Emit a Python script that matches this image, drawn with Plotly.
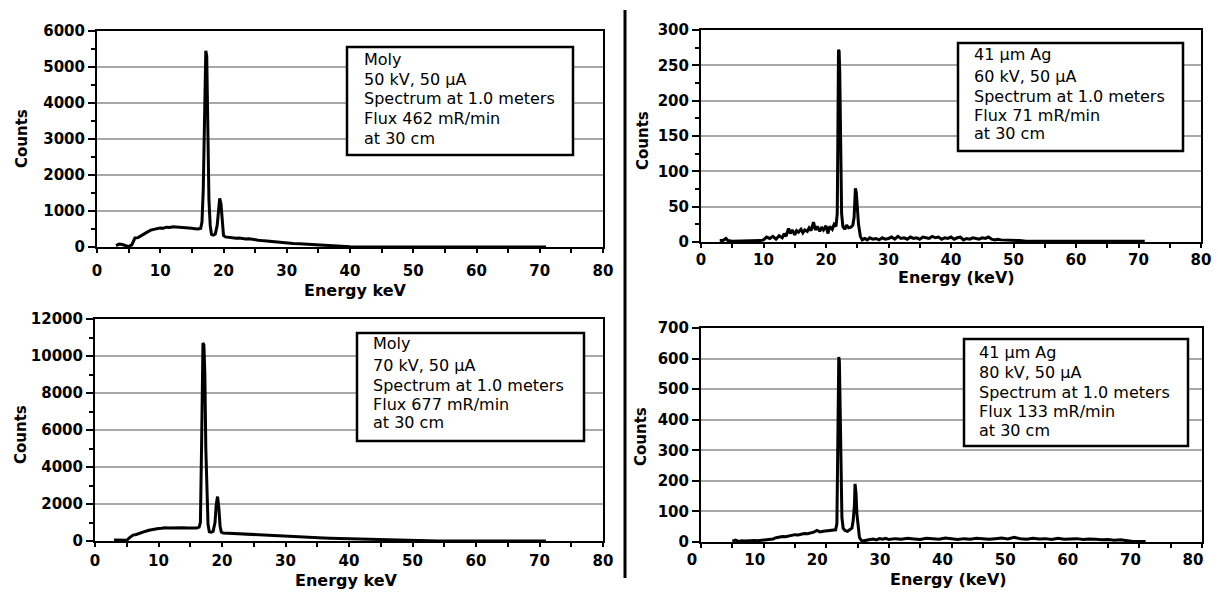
import plotly.graph_objects as go

W, H = 1218, 592

# ---------------- data ----------------
moly50_energy = [3.0, 3.5, 4.0, 4.5, 5.0, 5.5, 6.0, 6.5, 7.0, 7.5, 8.0, 8.5, 9.0, 9.5, 10.0, 10.5,
                 11.0, 11.5, 12.0, 12.5, 13.0, 13.5, 14.0, 14.5, 15.0, 15.5, 16.0, 16.4, 16.6, 16.8,
                 17.0, 17.2, 17.35, 17.5, 17.7, 17.9, 18.1, 18.4, 18.7, 19.0, 19.2, 19.4, 19.6, 19.8,
                 20.0, 20.3, 20.6, 21.0, 21.5, 22.0, 22.5, 23.0, 23.5, 24.0, 24.5, 25.0, 25.5, 26.0,
                 26.5, 27.0, 27.5, 28.0, 28.5, 29.0, 29.5, 30.0, 31.0, 32.0, 33.0, 34.0, 35.0, 36.0,
                 37.0, 38.0, 39.0, 40.0, 45.0, 50.0, 55.0, 60.0, 65.0, 71.0]
moly50_counts = [40, 80, 70, 50, 10, 60, 250, 260, 320, 360, 420, 470, 500, 510, 530, 520,
                 550, 540, 560, 555, 560, 540, 550, 530, 520, 510, 500, 520, 700, 1600,
                 3200, 5450, 5300, 3000, 1300, 600, 350, 330, 360, 600, 1100, 1350, 1200, 600,
                 320, 280, 270, 260, 250, 240, 250, 230, 220, 230, 210, 200, 190, 180,
                 170, 160, 150, 140, 140, 130, 120, 110, 100, 90, 80, 70, 60, 40,
                 30, 20, 10, 5, 0, 0, 0, 0, 0, 0]

ag60_energy = [3.0, 3.5, 4.0, 4.3, 5.0, 6.0, 7.0, 8.0, 9.0, 9.5, 10.0, 10.5, 11.0, 11.5, 12.0, 12.5,
               13.0, 13.3, 13.6, 14.0, 14.3, 14.6, 15.0, 15.3, 15.6, 16.0, 16.3, 16.6, 17.0, 17.3,
               17.6, 18.0, 18.3, 18.6, 19.0, 19.3, 19.6, 20.0, 20.3, 20.6, 21.0, 21.3, 21.6, 21.8,
               21.9, 22.0, 22.1, 22.2, 22.35, 22.5, 22.7, 23.0, 23.3, 23.6, 24.0, 24.3, 24.5, 24.7,
               24.85, 25.0, 25.2, 25.5, 25.8, 26.2, 26.6, 27.0, 27.5, 28.0, 28.5, 29.0, 29.5, 30.0,
               30.5, 31.0, 31.5, 32.0, 32.5, 33.0, 33.5, 34.0, 34.5, 35.0, 35.5, 36.0, 36.5, 37.0,
               37.5, 38.0, 38.5, 39.0, 39.5, 40.0, 40.5, 41.0, 41.5, 42.0, 42.5, 43.0, 43.5, 44.0,
               44.5, 45.0, 45.5, 46.0, 46.5, 47.0, 47.5, 48.0, 49.0, 50.0, 51.0, 52.0, 55.0, 60.0,
               65.0, 71.0]
ag60_counts = [2, 2, 5, 2, 1, 1, 2, 1, 2, 2, 3, 7, 5, 8, 4, 9,
               6, 12, 8, 19, 12, 17, 10, 16, 14, 18, 13, 17, 15, 20,
               16, 28, 17, 22, 15, 21, 17, 23, 12, 22, 18, 25, 22, 40,
               150, 272, 270, 240, 120, 40, 22, 18, 24, 20, 21, 24, 35, 76,
               70, 45, 25, 8, 3, 5, 3, 6, 4, 5, 3, 6, 4, 5,
               7, 4, 8, 5, 6, 4, 7, 5, 6, 4, 7, 6, 5, 8,
               6, 7, 4, 6, 5, 7, 4, 6, 7, 3, 5, 4, 6, 5,
               4, 6, 5, 7, 4, 3, 4, 3, 3, 2, 2, 1, 1, 1,
               1, 1]

moly70_energy = [3.0, 4.0, 4.5, 5.0, 5.5, 6.0, 6.5, 7.0, 7.5, 8.0, 8.5, 9.0, 9.5, 10.0, 10.5, 11.0,
                 11.5, 12.0, 12.5, 13.0, 13.5, 14.0, 14.5, 15.0, 15.5, 16.0, 16.4, 16.6, 16.8, 17.0,
                 17.15, 17.3, 17.45, 17.6, 17.8, 18.0, 18.3, 18.6, 18.9, 19.1, 19.3, 19.5, 19.7, 19.9,
                 20.2, 21.0, 22.0, 23.0, 24.0, 25.0, 26.0, 27.0, 28.0, 29.0, 30.0, 31.0, 32.0, 33.0,
                 34.0, 35.0, 36.0, 37.0, 38.0, 39.0, 40.0, 41.0, 42.0, 43.0, 44.0, 45.0, 46.0, 47.0,
                 48.0, 49.0, 50.0, 51.0, 52.0, 53.0, 54.0, 60.0, 65.0, 71.0]
moly70_counts = [50, 60, 70, 40, 200, 320, 350, 420, 470, 530, 580, 620, 650, 680, 690, 720,
                 700, 710, 720, 730, 710, 720, 700, 710, 700, 700, 750, 1000, 5500, 10700,
                 10600, 9000, 5000, 2500, 900, 500, 480, 520, 1000, 2000, 2400, 1800, 800, 480,
                 430, 420, 400, 380, 360, 350, 330, 300, 290, 270, 260, 240, 220, 200,
                 190, 170, 160, 150, 140, 130, 120, 110, 100, 90, 85, 75, 65, 55,
                 50, 40, 35, 25, 15, 5, 0, 0, 0, 0]

ag80_energy = [5.0, 5.5, 6.0, 6.5, 7.0, 7.5, 8.0, 8.5, 9.0, 9.5, 10.0, 10.5, 11.0, 11.5, 12.0, 12.5,
               13.0, 13.5, 14.0, 14.5, 15.0, 15.5, 16.0, 16.5, 17.0, 17.5, 18.0, 18.5, 19.0, 19.5,
               20.0, 20.5, 21.0, 21.5, 21.7, 21.8, 21.9, 22.0, 22.1, 22.2, 22.35, 22.5, 22.7, 23.0,
               23.4, 23.8, 24.1, 24.3, 24.5, 24.6, 24.75, 24.9, 25.1, 25.3, 25.6, 26.0, 27.0, 27.5,
               28.0, 28.5, 29.0, 29.5, 30.0, 31.0, 32.0, 33.0, 34.0, 35.0, 36.0, 37.0, 38.0, 39.0,
               40.0, 41.0, 42.0, 43.0, 44.0, 45.0, 46.0, 47.0, 48.0, 49.0, 50.0, 51.0, 52.0, 53.0,
               54.0, 55.0, 56.0, 57.0, 58.0, 59.0, 60.0, 61.0, 62.0, 63.0, 64.0, 65.0, 66.0, 67.0,
               68.0, 69.0, 70.0, 71.0]
ag80_counts = [3, 6, 2, 4, 3, 4, 3, 5, 4, 5, 6, 7, 8, 10, 14, 16,
               18, 17, 20, 22, 24, 23, 26, 28, 27, 30, 32, 38, 33, 35,
               36, 38, 37, 40, 60, 250, 500, 605, 590, 450, 200, 80, 45, 38,
               35, 40, 45, 70, 120, 190, 160, 90, 40, 15, 5, 4, 8, 10,
               7, 11, 9, 12, 8, 11, 9, 12, 10, 8, 12, 10, 9, 13,
               10, 8, 11, 9, 12, 10, 9, 11, 13, 10, 15, 11, 9, 12,
               10, 11, 8, 12, 9, 10, 11, 8, 10, 9, 7, 8, 6, 7,
               4, 2, 2, 2]

x_ticks = [0, 10, 20, 30, 40, 50, 60, 70, 80]

panels = [
    dict(energy=moly50_energy, counts=moly50_counts, ymax=6000, dtick=1000, minor=500,
         xt="Energy keV",
         lines=["Moly", "50 kV, 50 μA", "Spectrum at 1.0 meters", "Flux 462 mR/min", "at 30 cm"]),
    dict(energy=ag60_energy, counts=ag60_counts, ymax=300, dtick=50, minor=25,
         xt="Energy (keV)",
         lines=["41 μm Ag", "60 kV, 50 μA", "Spectrum at 1.0 meters", "Flux 71 mR/min", "at 30 cm"]),
    dict(energy=moly70_energy, counts=moly70_counts, ymax=12000, dtick=2000, minor=1000,
         xt="Energy keV",
         lines=["Moly", "70 kV, 50 μA", "Spectrum at 1.0 meters", "Flux 677 mR/min", "at 30 cm"]),
    dict(energy=ag80_energy, counts=ag80_counts, ymax=700, dtick=100, minor=None,
         xt="Energy (keV)",
         lines=["41 μm Ag", "80 kV, 50 μA", "Spectrum at 1.0 meters", "Flux 133 mR/min", "at 30 cm"]),
]

# ---------------- layout geometry (pixels) ----------------
geom = [
    dict(x0=97, x1=603, yt=31, yb=247, xlab_shift=0, xlab_off=5, xtl=4,
         box=(347, 47, 573, 155), tx=362, ty=[59, 79, 99, 118, 138],
         cnt=(22, 139), etitle=(355, 290)),
    dict(x0=701, x1=1201, yt=30, yb=242, xlab_shift=0, xlab_off=0, xtl=3,
         box=(958, 43, 1183, 151), tx=972, ty=[55, 76, 96, 115, 134],
         cnt=(643, 141), etitle=(956, 278)),
    dict(x0=95, x1=603, yt=319, yb=541, xlab_shift=0, xlab_off=1, xtl=4,
         box=(357, 333, 584, 441), tx=371, ty=[344, 365, 385, 404, 423],
         cnt=(21, 435), etitle=(346, 580)),
    dict(x0=701, x1=1202, yt=328, yb=542, xlab_shift=-9, xlab_off=0, xtl=3,
         box=(964, 339, 1188, 446), tx=977, ty=[352, 372, 392, 411, 430],
         cnt=(641, 437), etitle=(948, 579)),
]

def px(x):
    return x / W

def py(y):
    return 1 - y / H

tick_font = dict(family="DejaVu Sans", size=15, color="black", weight="bold")
title_font = dict(family="DejaVu Sans", size=16, color="black", weight="bold")
box_font = dict(family="DejaVu Sans", size=16, color="black")

fig = go.Figure()
layout = dict(width=W, height=H, margin=dict(l=0, r=0, t=0, b=0, autoexpand=False),
              paper_bgcolor="white", plot_bgcolor="white", showlegend=False)
annotations = []
shapes = []

for i, (p, g) in enumerate(zip(panels, geom), start=1):
    sfx = "" if i == 1 else str(i)
    fig.add_trace(go.Scatter(x=p["energy"], y=p["counts"], mode="lines",
                             line=dict(color="black", width=3),
                             xaxis="x" + sfx, yaxis="y" + sfx, hoverinfo="skip"))
    xa = dict(domain=[px(g["x0"]), px(g["x1"])], range=[0, 80], anchor="y" + sfx,
              tickvals=x_ticks, ticks="outside", ticklen=g["xtl"], tickwidth=2, tickcolor="black",
              showline=True, linecolor="black", linewidth=2, mirror=True, automargin=False,
              showgrid=False, zeroline=False, tickfont=tick_font,
              ticklabelstandoff=g["xlab_off"], ticklabelshift=g["xlab_shift"],
              minor=dict(dtick=5, tick0=0, ticks="outside", ticklen=4, tickwidth=2,
                         tickcolor="black", showgrid=False))
    ya = dict(domain=[py(g["yb"]), py(g["yt"])], range=[0, p["ymax"]], anchor="x" + sfx,
              dtick=p["dtick"], tick0=0, tickformat="d", ticks="outside", ticklen=7,
              tickwidth=2, automargin=False,
              tickcolor="black", showline=True, linecolor="black", linewidth=2, mirror=True,
              showgrid=True, gridcolor="#a8a8a8", gridwidth=1.5, zeroline=False,
              tickfont=tick_font)
    if p["minor"]:
        ya["minor"] = dict(dtick=p["minor"], tick0=0, ticks="outside", ticklen=4,
                           tickwidth=2, tickcolor="black", showgrid=False)
    layout["xaxis" + sfx] = xa
    layout["yaxis" + sfx] = ya

    # legend box
    bx0, by0, bx1, by1 = g["box"]
    shapes.append(dict(type="rect", xref="paper", yref="paper",
                       x0=px(bx0), x1=px(bx1), y0=py(by1), y1=py(by0),
                       line=dict(color="black", width=2.5), fillcolor="white", layer="above"))
    for line_text, ty in zip(p["lines"], g["ty"]):
        annotations.append(dict(text=line_text, xref="paper", yref="paper",
                                x=px(g["tx"]), y=py(ty), xanchor="left", yanchor="middle",
                                showarrow=False, font=box_font))
    # axis titles
    annotations.append(dict(text="Counts", xref="paper", yref="paper",
                            x=px(g["cnt"][0]), y=py(g["cnt"][1]), xanchor="center",
                            yanchor="middle", textangle=-90, showarrow=False,
                            font=dict(family="DejaVu Sans", size=15, color="black", weight="bold")))
    annotations.append(dict(text=p["xt"], xref="paper", yref="paper",
                            x=px(g["etitle"][0]), y=py(g["etitle"][1]), xanchor="center",
                            yanchor="middle", showarrow=False, font=title_font))

# vertical divider
shapes.append(dict(type="line", xref="paper", yref="paper",
                   x0=px(625), x1=px(625), y0=py(10), y1=py(578),
                   line=dict(color="black", width=3)))

layout["annotations"] = annotations
layout["shapes"] = shapes
fig.update_layout(**layout)
fig.write_html("out.html", config={"displayModeBar": False},
               post_script="document.body.style.margin='0';document.body.style.overflow='hidden';")
